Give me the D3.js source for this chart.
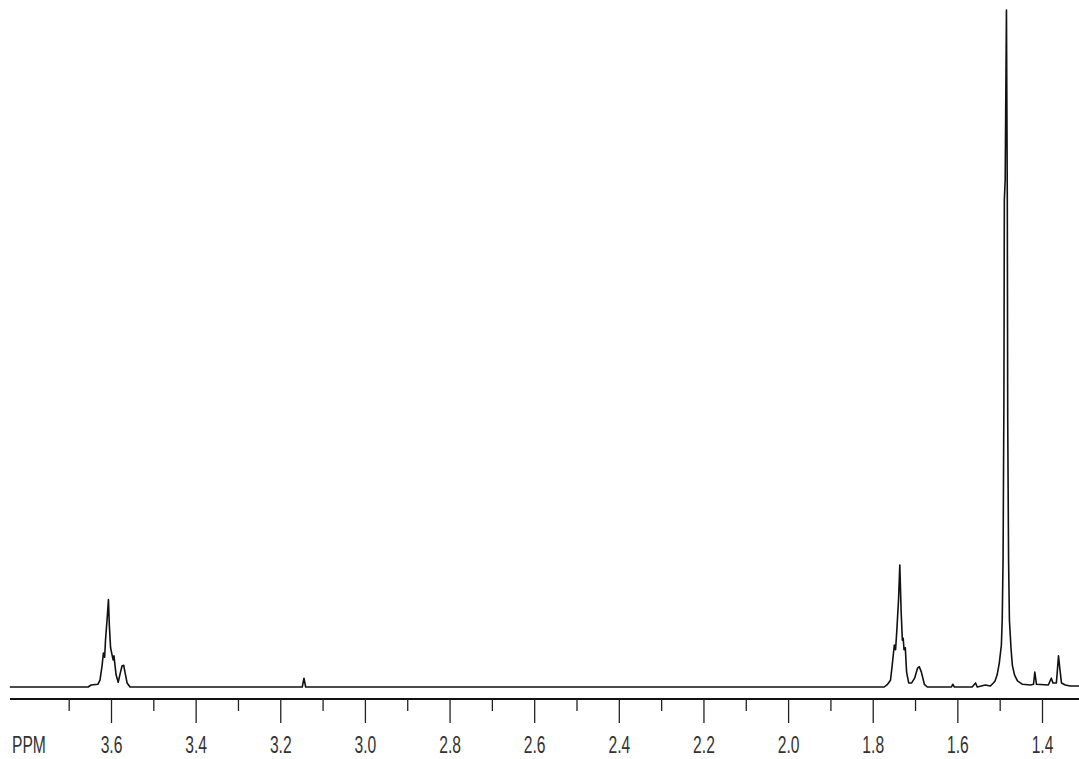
<!DOCTYPE html>
<html>
<head>
<meta charset="utf-8">
<script src="https://cdn.jsdelivr.net/npm/d3@7"></script>
<style>
html,body{margin:0;padding:0;background:#fff;}
svg{display:block;}
.lbl{font-family:"Liberation Sans",Arial,sans-serif;font-size:23px;fill:#333;}
</style>
</head>
<body>
<svg id="chart" width="1079" height="759"></svg>
<script>
// Spectrum vertices: chemical shift (ppm) and relative intensity (%)
const shiftPpm = [
  3.839, 3.654, 3.647, 3.631, 3.626, 3.621, 3.618, 3.615, 3.613, 3.609, 3.606, 3.604, 3.601, 3.599, 3.595, 3.593,
  3.588, 3.583, 3.579, 3.574, 3.570, 3.567, 3.562, 3.555,
  3.148, 3.144, 3.140,
  1.773, 1.765, 1.758, 1.754, 1.749, 1.746, 1.743, 1.739, 1.736, 1.733, 1.730, 1.728, 1.726, 1.723, 1.720, 1.715,
  1.708, 1.701, 1.694, 1.690, 1.685, 1.678, 1.671,
  1.614, 1.611, 1.607, 1.565, 1.557, 1.553, 1.534, 1.522, 1.515, 1.511, 1.506, 1.501, 1.496, 1.494, 1.492, 1.490,
  1.489, 1.487, 1.484, 1.482, 1.481, 1.479, 1.477, 1.473, 1.470, 1.465, 1.458, 1.446, 1.427, 1.420, 1.417, 1.413,
  1.385, 1.378, 1.374, 1.366, 1.361, 1.358, 1.354, 1.345, 1.333, 1.312
];
const intensity = [
  0, 0, 0.3, 0.4, 1.0, 3.2, 5.0, 4.4, 6.9, 10.2, 12.9, 9.2, 5.8, 5.2, 4.0, 4.6,
  1.8, 0.7, 1.8, 3.1, 3.2, 2.2, 0.6, 0,
  0, 1.3, 0,
  0, 0.4, 1.0, 3.2, 6.2, 5.5, 8.4, 12.9, 18.0, 11.4, 6.9, 7.2, 5.5, 5.8, 2.2, 0.6,
  0.6, 1.3, 2.8, 3.0, 2.2, 0.4, 0,
  0, 0.4, 0, 0, 0.6, 0, 0.3, 0.15, 0.6, 0.9, 1.8, 3.5, 6.2, 9.9, 18.8, 42.4,
  71.9, 74.9, 100, 71.9, 39.4, 18.8, 9.9, 5.5, 3.2, 1.8, 0.9, 0.4, 0.3, 0.4, 2.2, 0.4,
  0.3, 1.3, 0.6, 0.6, 4.6, 2.8, 0.6, 0.3, 0.15, 0.15
];
const majorTicks = [3.6, 3.4, 3.2, 3.0, 2.8, 2.6, 2.4, 2.2, 2.0, 1.8, 1.6, 1.4];
const minorTicks = [3.7, 3.5, 3.3, 3.1, 2.9, 2.7, 2.5, 2.3, 2.1, 1.9, 1.7, 1.5];
const axisUnit = "PPM";

const svg = d3.select("#chart");
const x = d3.scaleLinear().domain([3.6, 1.4]).range([111, 1042]);
const y = d3.scaleLinear().domain([0, 100]).range([687, 10]);
const axisY = 699;
const narrow = "scale(0.68,1)";

const pts = shiftPpm.map((p, i) => [p, intensity[i]]);
svg.append("path")
  .datum(pts)
  .attr("fill", "none")
  .attr("stroke", "#111")
  .attr("stroke-width", 1.6)
  .attr("stroke-linejoin", "round")
  .attr("d", d3.line().x(d => x(d[0])).y(d => y(d[1])));

// axis baseline
svg.append("line")
  .attr("x1", 10).attr("x2", 1079)
  .attr("y1", axisY).attr("y2", axisY)
  .attr("stroke", "#111").attr("stroke-width", 2.2);

const major = svg.append("g").attr("transform", `translate(0,${axisY})`)
  .call(d3.axisBottom(x).tickValues(majorTicks).tickSize(24).tickPadding(14).tickFormat(d3.format(".1f")));
major.select(".domain").remove();
major.selectAll(".tick line").attr("stroke", "#222").attr("stroke-width", 1.3);
major.selectAll(".tick text").attr("class", "lbl").attr("font-size", null).attr("font-family", null)
  .attr("fill", null).attr("transform", narrow);

const minor = svg.append("g").attr("transform", `translate(0,${axisY})`)
  .call(d3.axisBottom(x).tickValues(minorTicks).tickSize(12).tickFormat(""));
minor.select(".domain").remove();
minor.selectAll(".tick line").attr("stroke", "#222").attr("stroke-width", 1.3);

svg.append("g").attr("transform", `translate(12,${axisY + 38})`)
  .append("text")
  .attr("class", "lbl")
  .attr("dy", "0.71em")
  .attr("transform", narrow)
  .text(axisUnit);
</script>
</body>
</html>
